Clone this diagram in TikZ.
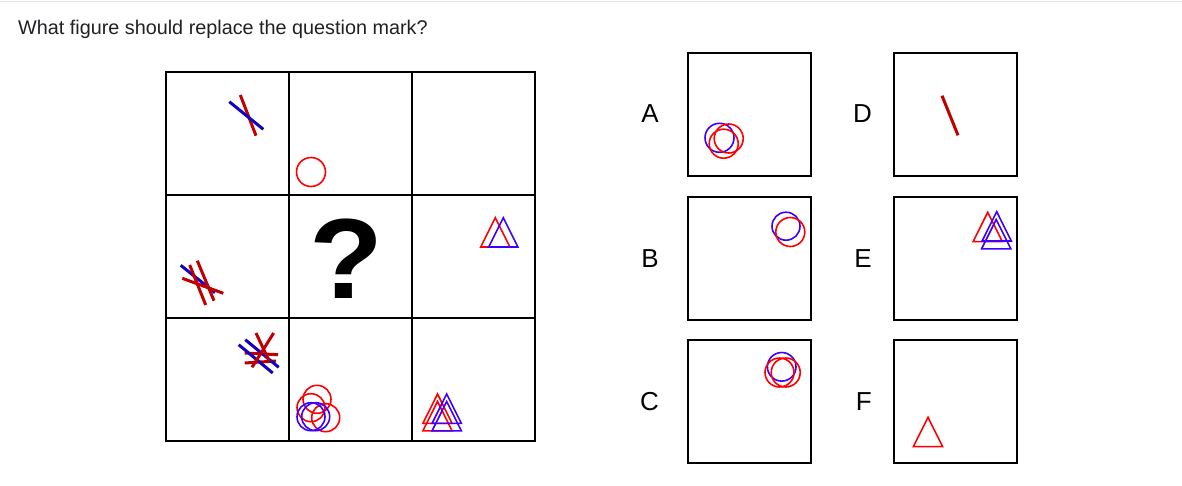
\documentclass[tikz,border=0pt]{standalone}
\usepackage{fontspec}
\setmainfont{Liberation Sans}
\usetikzlibrary{positioning}
\definecolor{lnred}{RGB}{192,0,0}
\definecolor{lnblue}{RGB}{20,0,190}
\definecolor{shred}{RGB}{255,0,0}
\definecolor{shblue}{RGB}{60,0,255}
\definecolor{txtgray}{RGB}{32,33,36}
\newcommand{\puztri}[3]{\draw[tri,#1] (#2,#3) -- ++(-14.6,29.3) -- ++(29.2,0) -- cycle;}

\begin{document}
\begin{tikzpicture}[x=1pt,y=-1pt,
  frame/.style={draw=black,line width=2pt},
  optbox/.style={frame,minimum size=123pt,inner sep=0pt},
  stick/.style={line width=3pt},
  ring/.style={line width=1.6pt},
  tri/.style={line width=1.6pt,line join=miter},
  lbl/.style={font=\fontsize{26}{28}\selectfont,inner sep=0pt}]
\useasboundingbox (0,0) rectangle (1182,485);
\draw[gray!20,line width=1pt] (0,1.5) -- (1182,1.5);
\node[anchor=base west,text=txtgray,inner sep=0pt,
  font=\fontsize{19.8}{22}\selectfont] (title) at (18,34)
  {What figure should replace the question mark?};

% puzzle grid
\foreach \cx in {166,289,412,535}
  \draw[frame] (\cx,72) -- (\cx,441);
\foreach \cy in {72,195,318,441}
  \draw[frame] (165,\cy) -- (536,\cy);

% row 1
\draw[stick,lnred] (240.3,95) -- (256,135.7);
\draw[stick,lnblue] (229.3,101.7) -- (263.3,129.3);
\draw[ring,shred] (311,172) circle [radius=14.5pt];

% row 2
\draw[stick,lnblue] (180.7,265.3) -- (215,292.7);
\draw[stick,lnred] (182.3,278.3) -- (223.3,293.3);
\draw[stick,lnred] (197.3,260.7) -- (214,300.7);
\draw[stick,lnred] (189.7,265) -- (205.7,305);
\node[anchor=base,inner sep=0pt,xscale=1.06,
  font=\fontsize{114}{114}\selectfont\bfseries] (qmark) at (346.5,298) {?};
\puztri{shred}{495.3}{217.7}
\puztri{shblue}{503.3}{217.7}

% row 3
\draw[stick,lnred] (244.7,353) -- (278,354.7);
\draw[stick,lnred] (244.7,363) -- (276,361);
\draw[stick,lnblue] (238.7,344.7) -- (272.7,373);
\draw[stick,lnblue] (245.3,339.7) -- (278.7,367.3);
\draw[stick,lnred] (256,333) -- (269.3,361.3);
\draw[stick,lnred] (273.7,333) -- (252,367.3);
\draw[ring,shred] (317,399.3) circle [radius=14pt];
\draw[ring,shred] (311,407.7) circle [radius=14pt];
\draw[ring,shred] (325.7,417.7) circle [radius=14pt];
\draw[ring,shblue] (311,416.7) circle [radius=14pt];
\draw[ring,shblue] (315.7,416.7) circle [radius=14pt];
\puztri{shred}{437.5}{394}
\puztri{shred}{437.5}{401.5}
\puztri{shblue}{446.7}{394}
\puztri{shblue}{446.7}{401.5}

% answer options
\node[optbox] (optA) at (749.5,114) {};
\node[optbox] (optB) at (749.5,258.5) {};
\node[optbox] (optC) at (749.5,401.5) {};
\node[optbox] (optD) at (955.5,114) {};
\node[optbox] (optE) at (955.5,258.5) {};
\node[optbox] (optF) at (955.5,401.5) {};
\node[lbl,left=28pt of optA] (labA) {A};
\node[lbl,left=28pt of optB] (labB) {B};
\node[lbl,left=28pt of optC] (labC) {C};
\node[lbl,left=21pt of optD] (labD) {D};
\node[lbl,left=21pt of optE] (labE) {E};
\node[lbl,left=21pt of optF] (labF) {F};

\draw[ring,shblue] (719.5,137.8) circle [radius=14.5pt];
\draw[ring,shred] (728.7,138.5) circle [radius=14.5pt];
\draw[ring,shred] (723.7,143.7) circle [radius=14.5pt];

\draw[ring,shblue] (786,226.2) circle [radius=14pt];
\draw[ring,shred] (790.3,232) circle [radius=14.5pt];

\draw[ring,shblue] (781.7,366.8) circle [radius=14.3pt];
\draw[ring,shred] (779.5,372.5) circle [radius=14.5pt];
\draw[ring,shred] (785.7,372.5) circle [radius=14.5pt];

\draw[stick,lnred] (942,95.7) -- (958,135.3);

\puztri{shred}{987.7}{212.3}
\puztri{shblue}{996.7}{211.7}
\puztri{shblue}{996.2}{219.5}

\puztri{shred}{928}{417.3}
\end{tikzpicture}
\end{document}
